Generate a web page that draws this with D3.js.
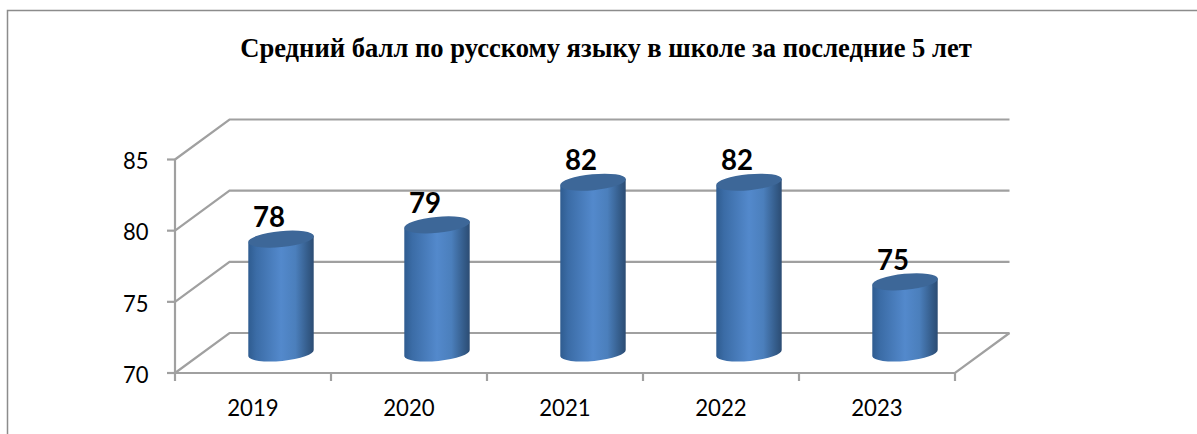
<!DOCTYPE html>
<html><head><meta charset="utf-8">
<script src="https://cdn.jsdelivr.net/npm/d3@7"></script>
<style>html,body{margin:0;padding:0;background:#fff;overflow:hidden}svg{display:block}</style>
</head><body><div id="c"></div>
<script>
const years = ["2019","2020","2021","2022","2023"];
const scores = [78,79,82,82,75];
const yTicks = [70,75,80,85];
const title = "Средний балл по русскому языку в школе за последние 5 лет";

const W=1197,H=434;
const svg=d3.select("#c").append("svg").attr("width",W).attr("height",H);
const x=d3.scaleBand().domain(years).range([175,955]);
const y=d3.scaleLinear().domain([70,85]).range([373,159.5]);
const depth={dx:54.5,dy:-40};
const GRID="#a0a0a0";

// frame
svg.append("path").attr("d","M7.5,434V10.5H1197").attr("fill","none").attr("stroke","#8c8c8c").attr("stroke-width",1.5);

svg.append("text").attr("x",606).attr("y",57).attr("text-anchor","middle")
  .attr("font-family","'Liberation Serif',serif").attr("font-weight","bold").attr("font-size",26.6).attr("fill","#000").text(title);

// gradients
const defs=svg.append("defs");
const g=defs.append("linearGradient").attr("id","body").attr("x1",0).attr("x2",1).attr("y1",0).attr("y2",0);
[[0,"#2f5c90"],[0.12,"#3b6ca6"],[0.5,"#5389cc"],[0.72,"#4b7fbc"],[0.92,"#335a87"],[1,"#2c4c73"]]
  .forEach(s=>g.append("stop").attr("offset",s[0]).attr("stop-color",s[1]));

// walls and grid
const grid=svg.append("g").attr("fill","none").attr("stroke",GRID).attr("stroke-width",2.2);
yTicks.forEach(t=>{
  const p=y(t);
  grid.append("path").attr("d",`M${x.range()[0]},${p}l${depth.dx},${depth.dy}H${x.range()[1]+depth.dx}`);
  grid.append("path").attr("d",`M${x.range()[0]-8},${p}H${x.range()[0]}`);
});
grid.append("path").attr("d",`M${x.range()[0]},${y(85)}V${y(70)+8}`);
grid.append("path").attr("d",`M${x.range()[0]},${y(70)}H${x.range()[1]}l${depth.dx},${depth.dy}`);
years.forEach(d=>{
  grid.append("path").attr("d",`M${x(d)+x.bandwidth()},${y(70)}v8`);
});

// axis labels
const LABEL_FONT="Lato,sans-serif";
svg.append("g").selectAll("text").data(yTicks).join("text")
  .attr("x",148.5).attr("y",d=>y(d)+9.7).attr("text-anchor","end")
  .attr("textLength",25.5).attr("lengthAdjust","spacingAndGlyphs")
  .attr("font-family",LABEL_FONT).attr("font-size",23.5).attr("fill","#000").text(d=>d);
svg.append("g").selectAll("text").data(years).join("text")
  .attr("x",d=>x(d)+x.bandwidth()/2).attr("y",416).attr("text-anchor","middle")
  .attr("textLength",51.5).attr("lengthAdjust","spacingAndGlyphs")
  .attr("font-family",LABEL_FONT).attr("font-size",23.5).attr("fill","#000").text(d=>d);

// cylinders
const rx=32.7,ry=8,tilt=-5.5,skew=3.3,mid={dx:28,dy:-20};
const rows=years.map((d,i)=>({year:d,v:scores[i]}));
const bars=svg.append("g").selectAll("g").data(rows).join("g")
  .attr("transform",d=>`translate(${x(d.year)+x.bandwidth()/2+mid.dx},0)`);
bars.append("path").attr("fill","url(#body)")
  .attr("d",d=>{
    const t=y(d.v)+mid.dy,b=y(70)+mid.dy;
    return `M${-rx},${t+skew}L${rx},${t-skew}L${rx},${b-skew}A${rx},${ry} ${tilt} 0 1 ${-rx},${b+skew}Z`;
  });
bars.append("ellipse").attr("rx",rx+0.3).attr("ry",ry).attr("fill","#3d6798")
  .attr("transform",d=>`translate(0,${y(d.v)+mid.dy}) rotate(${tilt})`);
svg.append("g").selectAll("text").data(rows).join("text")
  .attr("x",d=>x(d.year)+x.bandwidth()/2+16).attr("y",d=>y(d.v)-32).attr("text-anchor","middle")
  .attr("textLength",32).attr("lengthAdjust","spacingAndGlyphs")
  .attr("font-family",LABEL_FONT).attr("font-weight","bold").attr("font-size",28).attr("fill","#000").text(d=>d.v);
</script></body></html>
